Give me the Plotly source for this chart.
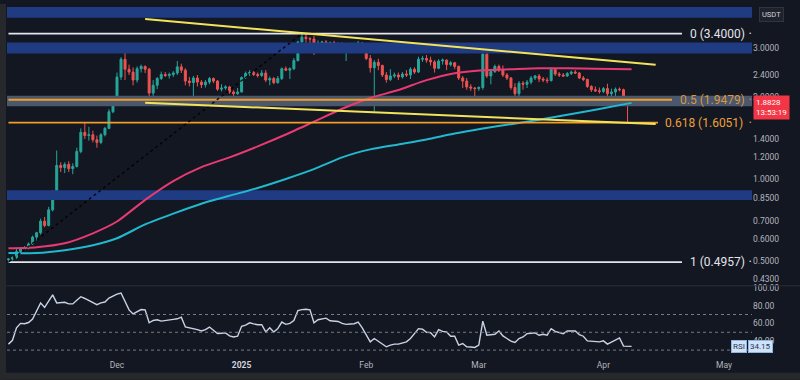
import math
import pandas as pd
import plotly.graph_objects as go

# ---------------- data ----------------
start_date = "2024-11-04"

opens = [0.506, 0.509, 0.515, 0.542, 0.553, 0.560, 0.578, 0.612, 0.635, 0.700,
         0.675, 0.770, 0.900, 1.120, 1.100, 1.130, 1.090, 1.110, 1.260, 1.480,
         1.440, 1.450, 1.390, 1.360, 1.450, 1.530, 1.760, 1.950, 2.360, 2.740,
         2.520, 2.460, 2.300, 2.530, 2.580, 2.520, 2.060, 2.200, 2.330, 2.410,
         2.390, 2.410, 2.440, 2.570, 2.500, 2.280, 2.250, 2.340, 2.260, 2.210,
         2.260, 2.330, 2.280, 2.130, 2.150, 2.170, 2.080, 2.050, 2.080, 2.350,
         2.430, 2.450, 2.410, 2.390, 2.440, 2.300, 2.330, 2.250, 2.330, 2.530,
         2.500, 2.530, 2.710, 3.170, 3.300, 3.260, 3.250, 2.980, 3.140, 3.170,
         3.100, 3.150, 3.120, 3.100, 3.050, 3.100, 3.070, 3.120, 3.140, 3.030,
         2.760, 2.550, 2.670, 2.600, 2.400, 2.310, 2.380, 2.400, 2.360, 2.420,
         2.400, 2.520, 2.460, 2.740, 2.760, 2.720, 2.680, 2.540, 2.700, 2.720,
         2.620, 2.660, 2.580, 2.340, 2.280, 2.170, 2.150, 2.140, 2.160, 2.860,
         2.380, 2.470, 2.580, 2.500, 2.400, 2.340, 2.160, 2.050, 2.240, 2.220,
         2.260, 2.340, 2.380, 2.320, 2.300, 2.290, 2.520, 2.420, 2.400, 2.380,
         2.430, 2.460, 2.440, 2.340, 2.310, 2.180, 2.120, 2.100, 2.090, 2.140,
         2.050, 2.080, 2.130, 2.120, 1.910, 1.900]
highs = [0.512, 0.520, 0.556, 0.560, 0.567, 0.585, 0.620, 0.640, 0.715, 0.725,
         0.790, 0.910, 1.270, 1.150, 1.150, 1.160, 1.140, 1.300, 1.530, 1.600,
         1.550, 1.500, 1.440, 1.470, 1.550, 1.800, 1.970, 2.450, 2.790, 2.900,
         2.620, 2.560, 2.580, 2.620, 2.600, 2.550, 2.300, 2.360, 2.470, 2.460,
         2.450, 2.480, 2.700, 2.640, 2.540, 2.360, 2.380, 2.400, 2.300, 2.300,
         2.360, 2.350, 2.300, 2.220, 2.200, 2.190, 2.110, 2.150, 2.370, 2.470,
         2.500, 2.480, 2.450, 2.500, 2.500, 2.370, 2.360, 2.380, 2.560, 2.580,
         2.560, 2.770, 3.200, 3.400, 3.390, 3.300, 3.340, 3.210, 3.200, 3.220,
         3.180, 3.200, 3.160, 3.160, 3.130, 3.150, 3.150, 3.200, 3.170, 3.050,
         2.840, 2.720, 2.750, 2.620, 2.460, 2.520, 2.450, 2.450, 2.460, 2.500,
         2.560, 2.560, 2.800, 2.820, 2.840, 2.800, 2.720, 2.740, 2.760, 2.740,
         2.700, 2.680, 2.600, 2.380, 2.340, 2.220, 2.170, 2.180, 2.950, 2.990,
         2.520, 2.620, 2.620, 2.600, 2.440, 2.360, 2.240, 2.280, 2.280, 2.300,
         2.380, 2.400, 2.420, 2.360, 2.350, 2.560, 2.520, 2.460, 2.440, 2.460,
         2.490, 2.500, 2.460, 2.380, 2.330, 2.200, 2.180, 2.160, 2.170, 2.230,
         2.140, 2.160, 2.160, 2.140, 1.970, 1.950]
lows = [0.4957, 0.503, 0.510, 0.534, 0.548, 0.552, 0.573, 0.595, 0.625, 0.665,
        0.670, 0.760, 0.890, 1.060, 1.050, 1.060, 1.040, 1.100, 1.240, 1.400,
        1.380, 1.360, 1.300, 1.340, 1.430, 1.520, 1.740, 1.930, 2.300, 2.300,
        2.400, 2.200, 2.250, 2.450, 2.440, 1.960, 1.920, 2.130, 2.300, 2.360,
        2.330, 2.360, 2.400, 2.440, 2.200, 2.180, 1.970, 2.180, 2.150, 2.160,
        2.220, 2.240, 2.100, 2.090, 2.120, 2.050, 2.000, 2.030, 2.070, 2.320,
        2.380, 2.380, 2.350, 2.360, 2.260, 2.200, 2.220, 2.230, 2.300, 2.480,
        2.320, 2.500, 2.690, 3.100, 3.150, 3.100, 2.840, 2.900, 3.050, 3.070,
        2.980, 3.080, 3.050, 3.020, 2.700, 3.020, 3.030, 3.070, 2.970, 2.720,
        2.450, 1.770, 2.500, 2.360, 2.250, 2.280, 2.340, 2.300, 2.330, 2.360,
        2.320, 2.420, 2.440, 2.680, 2.660, 2.600, 2.450, 2.520, 2.620, 2.500,
        2.580, 2.520, 2.300, 2.150, 2.120, 2.100, 1.990, 2.100, 2.120, 2.340,
        2.220, 2.440, 2.460, 2.360, 2.300, 2.120, 1.980, 1.970, 2.120, 2.150,
        2.220, 2.300, 2.260, 2.260, 2.240, 2.270, 2.380, 2.360, 2.360, 2.360,
        2.400, 2.420, 2.320, 2.280, 2.150, 2.080, 2.080, 2.050, 2.060, 1.990,
        1.980, 2.010, 2.090, 1.880, 1.610, 1.870]
closes = [0.509, 0.515, 0.542, 0.553, 0.560, 0.578, 0.612, 0.635, 0.700, 0.675,
          0.770, 0.900, 1.120, 1.100, 1.130, 1.090, 1.110, 1.260, 1.480, 1.440,
          1.450, 1.390, 1.360, 1.450, 1.530, 1.760, 1.950, 2.360, 2.740, 2.520,
          2.460, 2.300, 2.530, 2.580, 2.520, 2.060, 2.200, 2.330, 2.410, 2.390,
          2.410, 2.440, 2.570, 2.500, 2.280, 2.250, 2.340, 2.260, 2.210, 2.260,
          2.330, 2.280, 2.130, 2.150, 2.170, 2.080, 2.050, 2.080, 2.350, 2.430,
          2.450, 2.410, 2.390, 2.440, 2.300, 2.330, 2.250, 2.330, 2.530, 2.500,
          2.530, 2.710, 3.170, 3.300, 3.260, 3.250, 2.980, 3.140, 3.170, 3.100,
          3.150, 3.120, 3.100, 3.050, 3.100, 3.070, 3.120, 3.140, 3.030, 2.760,
          2.550, 2.670, 2.600, 2.400, 2.310, 2.380, 2.400, 2.360, 2.420, 2.400,
          2.520, 2.460, 2.740, 2.760, 2.720, 2.680, 2.540, 2.700, 2.720, 2.620,
          2.660, 2.580, 2.340, 2.280, 2.170, 2.150, 2.140, 2.160, 2.860, 2.380,
          2.470, 2.580, 2.500, 2.400, 2.340, 2.160, 2.050, 2.240, 2.220, 2.260,
          2.340, 2.380, 2.320, 2.300, 2.290, 2.520, 2.420, 2.400, 2.380, 2.430,
          2.460, 2.440, 2.340, 2.310, 2.180, 2.120, 2.100, 2.090, 2.140, 2.050,
          2.080, 2.130, 2.120, 1.910, 1.900, 1.8828]
rsi_values = [36.7, 41.0, 55.0, 60.0, 59.6, 61.0, 65.0, 75.0, 83.0, 78.0,
              85.0, 92.0, 83.0, 83.5, 83.7, 82.0, 81.9, 86.0, 90.0, 88.0,
              85.6, 83.0, 81.1, 83.0, 84.0, 88.5, 91.0, 93.0, 94.1, 85.0,
              75.2, 70.7, 73.0, 75.6, 75.2, 60.7, 63.3, 64.1, 62.6, 63.0,
              64.1, 64.5, 65.2, 67.0, 56.0, 55.2, 54.1, 53.0, 51.5, 53.0,
              55.9, 52.0, 48.5, 49.0, 49.3, 46.0, 44.8, 45.6, 56.7, 58.0,
              60.7, 59.5, 58.5, 58.5, 50.4, 55.2, 50.4, 54.1, 61.5, 58.9,
              60.0, 63.3, 74.4, 75.5, 75.9, 75.2, 60.7, 64.1, 65.0, 65.9,
              63.0, 62.6, 62.2, 60.0, 58.9, 59.3, 59.6, 61.5, 55.0, 47.0,
              39.2, 43.0, 40.0, 36.0, 33.7, 35.5, 36.7, 36.7, 38.1, 39.2,
              43.0, 48.0, 54.1, 53.5, 50.0, 49.6, 44.8, 53.0, 51.0, 50.4,
              45.6, 45.6, 35.6, 37.4, 33.7, 33.5, 33.0, 35.6, 62.6, 46.7,
              47.5, 47.8, 51.5, 45.9, 43.0, 40.0, 38.5, 43.0, 44.8, 48.5,
              49.0, 49.3, 46.7, 47.8, 46.7, 54.1, 51.0, 49.6, 48.5, 51.5,
              51.5, 51.5, 47.4, 45.6, 40.4, 40.0, 39.2, 39.2, 40.4, 36.7,
              39.0, 41.1, 43.7, 34.4, 34.0, 34.15]

ma_dates = ["2024-11-04", "2024-11-11", "2024-11-18", "2024-11-25", "2024-12-01",
            "2024-12-08", "2024-12-15", "2024-12-22", "2024-12-29", "2025-01-05",
            "2025-01-12", "2025-01-19", "2025-01-26", "2025-02-02", "2025-02-09",
            "2025-02-16", "2025-02-23", "2025-03-02", "2025-03-09", "2025-03-16",
            "2025-03-23", "2025-03-30", "2025-04-08"]
ma_pink = [0.557, 0.562, 0.581, 0.632, 0.698, 0.838, 0.982, 1.104, 1.199, 1.315,
           1.453, 1.619, 1.805, 1.978, 2.114, 2.298, 2.436, 2.497, 2.519, 2.540,
           2.540, 2.529, 2.519]
ma_cyan = [0.535, 0.535, 0.548, 0.571, 0.606, 0.681, 0.746, 0.811, 0.867, 0.926,
           0.999, 1.085, 1.199, 1.282, 1.337, 1.394, 1.465, 1.528, 1.586, 1.646,
           1.717, 1.789, 1.897]

fib_levels = [3.4, 1.9479, 1.6051, 0.4957]
fib_labels = ["0 (3.4000)", "0.5 (1.9479)", "0.618 (1.6051)", "1 (0.4957)"]
fib_start = "2024-11-04"
fib_ends = ["2025-04-20 13:00", "2025-04-18 01:30", "2025-04-14 14:00", "2025-04-20 13:00"]
fib_colors = ["#e3e5ea", "#f39c26", "#f39c26", "#e3e5ea"]
fib_label_colors = ["#e3e5ea", "#d9963f", "#f0a03a", "#e3e5ea"]
fib_label_x = [0.9141, 0.9007, 0.8805, 0.9141]

zone_low = [3.885, 2.877, 1.846, 0.836]
zone_high = [4.257, 3.154, 2.016, 0.909]
zone_colors = ["#1f3b82", "#1f3b82", "#4a576d", "#1f3b82"]

trend_dates = ["2024-12-08", "2025-04-14"]
trend_upper = [3.849, 2.614]
trend_lower = [1.898, 1.587]
diag_dates = ["2024-11-04", "2025-01-16"]
diag_values = [0.4957, 3.4]

price_ticks = [0.43, 0.5, 0.6, 0.7, 0.85, 1.0, 1.2, 1.4, 1.7, 2.0, 2.4, 3.0]
rsi_ticks = [40, 60, 80, 100]
rsi_guides = [30, 50, 70]
month_ticks = ["2024-12-01", "2025-01-01", "2025-02-01", "2025-03-01", "2025-04-01", "2025-05-01"]
month_labels = ["Dec", "<b><span style='color:#d1d4dc'>2025</span></b>", "Feb", "Mar", "Apr", "May"]

last_price = 1.8828
countdown = "13:53:19"
rsi_last = 34.15

X0, X1 = "2024-11-03 15:17", "2025-05-07 23:03"

# ---------------- figure ----------------
dates = pd.date_range(start_date, periods=len(closes), freq="D")
fig = go.Figure()

for lo, hi, col in zip(zone_low, zone_high, zone_colors):
    fig.add_trace(go.Scatter(x=[X0, X1, X1, X0, X0], y=[lo, lo, hi, hi, lo],
                             fill="toself", fillcolor=col, mode="lines",
                             line=dict(width=0), hoverinfo="skip",
                             xaxis="x", yaxis="y"))

fig.add_trace(go.Candlestick(x=dates, open=opens, high=highs, low=lows, close=closes,
                             increasing=dict(line=dict(color="#26a69a", width=1), fillcolor="#26a69a"),
                             decreasing=dict(line=dict(color="#ef5350", width=1), fillcolor="#ef5350"),
                             xaxis="x", yaxis="y"))

fig.add_trace(go.Scatter(x=ma_dates, y=ma_cyan, mode="lines",
                         line=dict(color="#22b8cf", width=2, shape="spline", smoothing=0.6),
                         xaxis="x", yaxis="y"))
fig.add_trace(go.Scatter(x=ma_dates, y=ma_pink, mode="lines",
                         line=dict(color="#e83a72", width=2, shape="spline", smoothing=0.6),
                         xaxis="x", yaxis="y"))

for lvl, end, col in zip(fib_levels, fib_ends, fib_colors):
    fig.add_trace(go.Scatter(x=[fib_start, end], y=[lvl, lvl], mode="lines",
                             line=dict(color=col, width=1.8), xaxis="x", yaxis="y"))

fig.add_trace(go.Scatter(x=diag_dates, y=diag_values, mode="lines",
                         line=dict(color="rgba(0,0,0,0.85)", width=1.5, dash="dot"),
                         xaxis="x", yaxis="y"))

for vals in (trend_upper, trend_lower):
    fig.add_trace(go.Scatter(x=trend_dates, y=vals, mode="lines",
                             line=dict(color="#f3e35a", width=2), xaxis="x", yaxis="y"))

fig.add_trace(go.Scatter(x=dates, y=rsi_values, mode="lines",
                         line=dict(color="#c9d3e6", width=1.4), xaxis="x", yaxis="y2"))

shapes = []
for g in rsi_guides:
    shapes.append(dict(type="line", xref="paper", x0=0, x1=1, yref="y2", y0=g, y1=g,
                       line=dict(color="#787b86", width=1, dash="3px,3px")))
shapes.append(dict(type="line", xref="paper", x0=-0.001, x1=1.0644, yref="paper",
                   y0=0.2051, y1=0.2051, line=dict(color="#2a2e39", width=1)))
shapes.append(dict(type="rect", xref="paper", yref="paper", x0=-0.0094, x1=-0.0013,
                   y0=-0.062, y1=1.006, fillcolor="#27282c", line=dict(width=0)))
shapes.append(dict(type="rect", xref="paper", yref="paper", x0=-0.0094, x1=1.065,
                   y0=-0.062, y1=-0.0421, fillcolor="#27282c", line=dict(width=0)))

annotations = []
for lvl, txt, col, lx in zip(fib_levels, fib_labels, fib_label_colors, fib_label_x):
    annotations.append(dict(x=lx, xref="paper", y=math.log10(lvl), yref="y", text=txt,
                            showarrow=False, xanchor="left", yanchor="middle",
                            font=dict(size=12, color=col, family="Roboto")))
    annotations.append(dict(x=0.9973, xref="paper", y=math.log10(lvl), yref="y", text="•",
                            showarrow=False, xanchor="center", yanchor="middle",
                            font=dict(size=7, color=col, family="Roboto")))

annotations.append(dict(x=1.0013, xref="paper", y=math.log10(last_price), yref="y",
                        text=f"{last_price:.4f}<br>{countdown}", showarrow=False,
                        xanchor="left", yanchor="middle", yshift=-4, align="left",
                        bgcolor="#f23645", borderpad=2,
                        font=dict(size=8, color="#ffffff", family="Roboto")))
annotations.append(dict(x=1.0268, xref="paper", y=0.9747, yref="paper", text="USDT",
                        showarrow=False, xanchor="center", yanchor="middle",
                        bgcolor="#1e222d", bordercolor="#30343f", borderpad=2,
                        font=dict(size=7.5, color="#d1d4dc", family="Roboto")))
annotations.append(dict(x=0.9933, xref="paper", y=rsi_last, yref="y2", text="RSI",
                        showarrow=False, xanchor="right", yanchor="middle",
                        bgcolor="#cfe2f7", bordercolor="#8fb3e6", borderpad=1,
                        font=dict(size=8, color="#1d3557", family="Roboto")))
annotations.append(dict(x=0.9946, xref="paper", y=rsi_last, yref="y2", text=f"{rsi_last:.2f}",
                        showarrow=False, xanchor="left", yanchor="middle",
                        bgcolor="#cfe2f7", bordercolor="#8fb3e6", borderpad=1,
                        font=dict(size=8, color="#1d3557", family="Roboto")))

fig.update_layout(
    width=800, height=380, margin=dict(l=7, r=48, t=2, b=22),
    paper_bgcolor="#131722", plot_bgcolor="#131722", showlegend=False,
    font=dict(family="Roboto", size=8.5, color="#b2b5be"),
    shapes=shapes, annotations=annotations,
    xaxis=dict(type="date", range=[X0, X1], anchor="y2", showgrid=False, zeroline=False,
               showline=False, ticks="", tickvals=month_ticks, ticktext=month_labels,
               tickfont=dict(size=8.5, color="#b2b5be"), rangeslider=dict(visible=False)),
    yaxis=dict(type="log", domain=[0.2079, 1.0], range=[-0.38786, 0.63274], side="right",
               anchor="x", showgrid=False, zeroline=False, showline=False, ticks="",
               tickvals=price_ticks, ticktext=[f"{v:.4f}" for v in price_ticks],
               tickfont=dict(size=8.5, color="#b2b5be")),
    yaxis2=dict(domain=[0.0, 0.2022], range=[21.11, 101.11], side="right", anchor="x",
                showgrid=False, zeroline=False, showline=False, ticks="",
                tickvals=rsi_ticks, ticktext=[f"{v:.2f}" for v in rsi_ticks],
                tickfont=dict(size=8.5, color="#b2b5be")),
)

fig.write_html(
    "out.html",
    config={"displayModeBar": False},
    post_script="document.body.style.margin='0';document.body.style.overflow='hidden';"
                "document.body.style.background='#131722';",
)
